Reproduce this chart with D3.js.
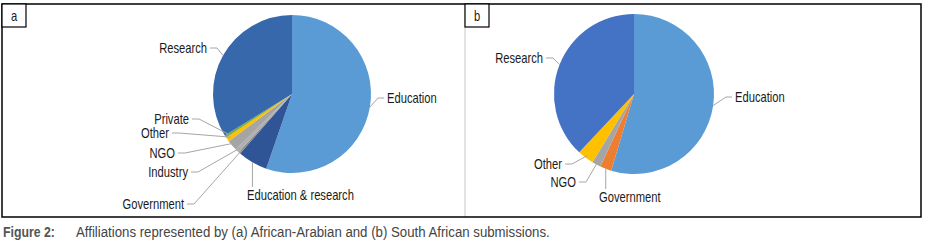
<!DOCTYPE html>
<html>
<head>
<meta charset="utf-8">
<script src="https://cdn.jsdelivr.net/npm/d3@7"></script>
<style>
  body { margin: 0; background: #fff; }
  svg text { font-family: "Liberation Sans", Arial, sans-serif; }
</style>
</head>
<body>
<div id="chart"></div>
<script>
// panel a: African-Arabian submissions
const catsA = ["Education", "Education & research", "Government", "Industry", "NGO", "Other", "Private", "Research"];
const valsA = [55.3, 6.1, 0.4, 0.8, 2.2, 0.9, 0.5, 33.8];
const colorsA = ["#5b9bd5", "#2f5597", "#8a8a8a", "#b0b0b0", "#a5a5a5", "#ffc000", "#70ad47", "#3768ab"];

// panel b: South African submissions
const catsB = ["Education", "Government", "NGO", "Other", "Research"];
const valsB = [54.6, 2.3, 1.8, 3.3, 38.0];
const colorsB = ["#5b9bd5", "#ed7d31", "#a5a5a5", "#ffc000", "#4472c4"];

const width = 930, height = 245;

const svg = d3.select("#chart").append("svg")
    .attr("width", width)
    .attr("height", height);

svg.append("rect").attr("width", width).attr("height", height).attr("fill", "#fff");

// squeeze text horizontally to fake a condensed face
function narrowText(x, y, str, size, anchor, fill, weight, sx) {
  return svg.append("text")
    .attr("transform", "translate(" + x + "," + y + ") scale(" + (sx || 0.8) + ",1)")
    .attr("dy", "0.35em")
    .attr("text-anchor", anchor)
    .attr("font-size", size)
    .attr("font-weight", weight || "normal")
    .attr("fill", fill)
    .text(str);
}

// label layout (text position, which side the leader leaves from)
const layoutA = {
  "Research":             { x: 207, y: 48,  side: "end",   r: 1.0 },
  "Education":            { x: 387, y: 98,  side: "start", r: 1.0 },
  "Education & research": { x: 247, y: 195, side: "below", r: 1.0 },
  "Private":              { x: 189, y: 119, side: "end",   r: 0.95 },
  "Other":                { x: 169, y: 133, side: "end",   r: 0.95 },
  "NGO":                  { x: 175, y: 153, side: "end",   r: 0.95 },
  "Industry":             { x: 188, y: 172, side: "end",   r: 0.95 },
  "Government":           { x: 184, y: 204, side: "end",   r: 0.96 }
};
const layoutB = {
  "Research":   { x: 543, y: 58,  side: "end",   r: 1.0 },
  "Education":  { x: 735, y: 97,  side: "start", r: 1.0 },
  "Other":      { x: 562, y: 164, side: "end",   r: 0.97 },
  "NGO":        { x: 576, y: 182, side: "end",   r: 0.97 },
  "Government": { x: 599, y: 197, side: "below", r: 1.0 }
};

function drawPie(cats, vals, colors, layout, cx, cy, radius) {
  const pie = d3.pie().sort(null).value(d => d.v);
  const arc = d3.arc().innerRadius(0).outerRadius(radius);
  const data = pie(cats.map((c, i) => ({ c: c, v: vals[i], col: colors[i] })));

  const g = svg.append("g").attr("transform", "translate(" + cx + "," + cy + ")");
  g.selectAll("path")
    .data(data)
    .enter()
    .append("path")
      .attr("d", arc)
      .attr("fill", d => d.data.col);

  data.forEach(d => {
    const L = layout[d.data.c];
    const mid = (d.startAngle + d.endAngle) / 2;
    const px = cx + radius * L.r * Math.sin(mid);
    const py = cy - radius * L.r * Math.cos(mid);
    let pts, anchor;
    if (L.side === "end") {
      pts = [[L.x + 3, L.y], [L.x + 10, L.y], [px, py]];
      anchor = "end";
    } else if (L.side === "start") {
      pts = [[L.x - 3, L.y], [L.x - 9, L.y], [px, py]];
      anchor = "start";
    } else {
      pts = [[px, py], [px, L.y - 8]];
      anchor = "start";
    }
    svg.append("path")
      .attr("d", d3.line()(pts))
      .attr("fill", "none")
      .attr("stroke", "#a6a6a6")
      .attr("stroke-width", 1);
    narrowText(L.x, L.y, d.data.c, "14px", anchor, "#1a1a1a");
  });
}

drawPie(catsA, valsA, colorsA, layoutA, 292, 94, 79);
drawPie(catsB, valsB, colorsB, layoutB, 634, 94, 80);

// frame and divider
svg.append("line").attr("x1", 465).attr("x2", 465).attr("y1", 4).attr("y2", 217)
  .attr("stroke", "#c8c8c8").attr("stroke-width", 1);
svg.append("rect").attr("x", 2).attr("y", 4).attr("width", 919).attr("height", 213)
  .attr("fill", "none").attr("stroke", "#000").attr("stroke-width", 1.5);

// panel tags
[["a", 2], ["b", 465]].forEach(([t, x]) => {
  svg.append("rect").attr("x", x).attr("y", 4).attr("width", 24).attr("height", 23)
    .attr("fill", "#fff").attr("stroke", "#000").attr("stroke-width", 1.2);
  narrowText(x + 12, 16, t, "14px", "middle", "#1a1a1a");
});

// caption
narrowText(3, 232, "Figure 2:", "14px", "start", "#555", "bold", 0.88);
narrowText(76, 232, "Affiliations represented by (a) African-Arabian and (b) South African submissions.", "14px", "start", "#444", "normal", 0.945);
</script>
</body>
</html>
